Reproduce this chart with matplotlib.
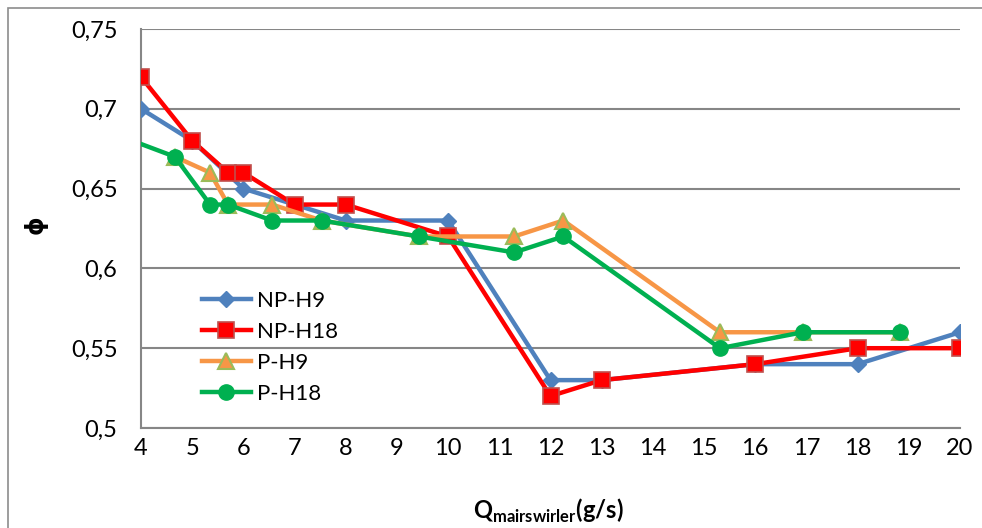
import matplotlib
matplotlib.use("Agg")
import matplotlib.pyplot as plt
from matplotlib.patches import Rectangle

plt.rcParams['font.family'] = ['Lato', 'DejaVu Sans']
plt.rcParams['mathtext.fontset'] = 'custom'
plt.rcParams['mathtext.bf'] = 'Lato:bold'
plt.rcParams['mathtext.rm'] = 'Lato'

# Data
np_h9_x = [4, 5, 6, 7, 8, 10, 12, 13, 16, 18, 20]
np_h9_y = [0.70, 0.68, 0.65, 0.64, 0.63, 0.63, 0.53, 0.53, 0.54, 0.54, 0.56]

np_h18_x = [4, 5, 5.7, 6, 7, 8, 10, 12, 13, 16, 18, 20]
np_h18_y = [0.72, 0.68, 0.66, 0.66, 0.64, 0.64, 0.62, 0.52, 0.53, 0.54, 0.55, 0.55]

p_h9_x = [4.66, 5.35, 5.7, 6.56, 7.53, 9.43, 11.29, 12.25, 15.31, 16.93, 18.83]
p_h9_y = [0.67, 0.66, 0.64, 0.64, 0.63, 0.62, 0.62, 0.63, 0.56, 0.56, 0.56]

p_h18_x = [3.0, 4.66, 5.35, 5.7, 6.56, 7.53, 9.43, 11.29, 12.25, 15.31, 16.93, 18.83]
p_h18_y = [0.69, 0.67, 0.64, 0.64, 0.63, 0.63, 0.62, 0.61, 0.62, 0.55, 0.56, 0.56]

x_ticks = list(range(4, 21))
y_ticks = [0.5, 0.55, 0.6, 0.65, 0.7, 0.75]
y_tick_labels = ["0,5", "0,55", "0,6", "0,65", "0,7", "0,75"]

fig = plt.figure(figsize=(9.82, 5.28), dpi=100)
fig.patches.append(Rectangle((8/982, -0.1), 1.2, 1 - 8/528 + 0.1, transform=fig.transFigure,
                             fill=False, edgecolor='#8c8c8c', linewidth=1.2, zorder=0))

ax = fig.add_axes([141/982, 1 - 428/528, (960 - 141)/982, (428 - 29)/528])

lw = 3.2
ax.plot(np_h9_x, np_h9_y, color='#4F81BD', lw=lw, marker='D', ms=8,
        mfc='#4F81BD', mec='#4F81BD', label='NP-H9', zorder=3)
ax.plot(np_h18_x, np_h18_y, color='#FF0000', lw=lw, marker='s', ms=11,
        mfc='#FF0000', mec='#C0504D', mew=1.2, label='NP-H18', zorder=4)
ax.plot(p_h9_x, p_h9_y, color='#F79646', lw=lw, marker='^', ms=11,
        mfc='#F79646', mec='#9BBB59', mew=1.5, label='P-H9', zorder=5)
ax.plot(p_h18_x, p_h18_y, color='#00B050', lw=lw, marker='o', ms=11,
        mfc='#00B050', mec='#00B050', label='P-H18', zorder=6)

ax.set_xlim(4, 20)
ax.set_ylim(0.5, 0.75)
ax.set_xticks(x_ticks)
ax.set_xticklabels([str(t) for t in x_ticks], fontsize=17)
ax.set_yticks(y_ticks)
ax.set_yticklabels(y_tick_labels, fontsize=17)
ax.tick_params(axis='both', length=0)
ax.tick_params(axis='x', pad=7)
ax.tick_params(axis='y', pad=17)

ax.grid(axis='y', color='#868686', linewidth=1.5)
ax.set_axisbelow(True)
for s in ['top', 'right']:
    ax.spines[s].set_visible(False)
for s in ['left', 'bottom']:
    ax.spines[s].set_color('#868686')
    ax.spines[s].set_linewidth(1.5)

fig.text(36/982, 1 - 225/528, 'ϕ', fontsize=17, fontweight='bold', rotation=90,
         ha='center', va='center', family=['DejaVu Sans'])
fig.text(548/982, 1 - 511/528, r'$\mathbf{Q}_{\mathbf{mairswirler}}\mathbf{(g/s)}$',
         fontsize=17, ha='center', va='center')

leg = ax.legend(loc='upper left', bbox_to_anchor=(52/819, (428 - 282)/399), frameon=False,
                fontsize=16, handlelength=2.2, handletextpad=0.3, labelspacing=0.5,
                borderaxespad=0)

fig.savefig('out.png', dpi=100)
